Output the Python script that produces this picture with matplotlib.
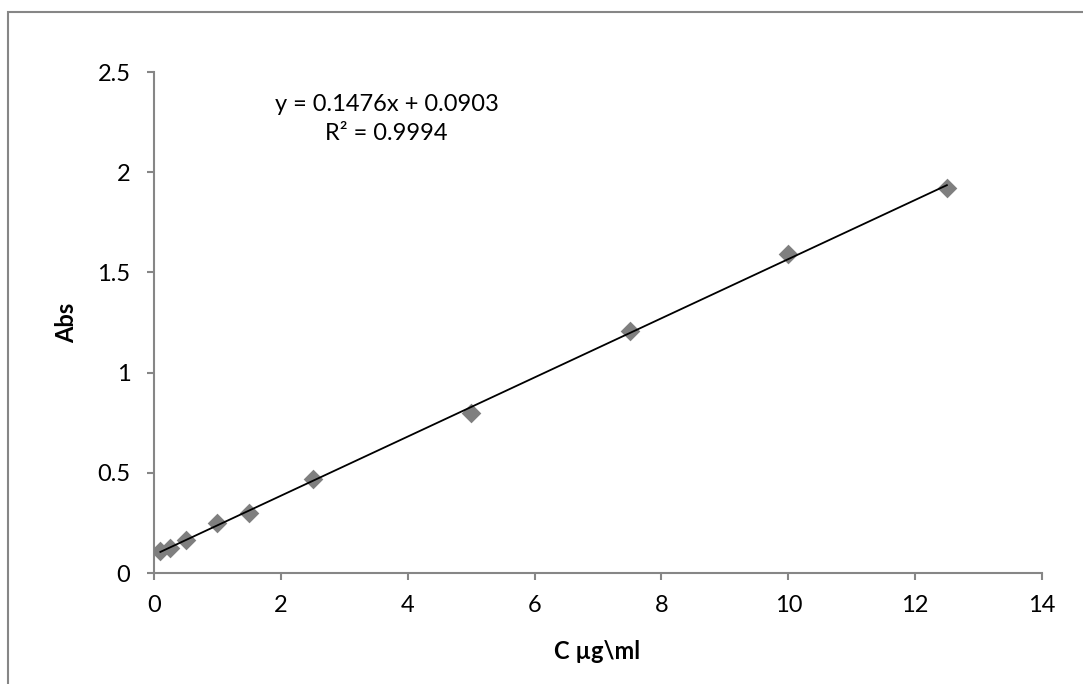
import matplotlib.pyplot as plt
from matplotlib.patches import Rectangle

plt.rcParams['font.family'] = ['Lato', 'DejaVu Sans']

conc = [0.1, 0.25, 0.5, 1, 1.5, 2.5, 5, 7.5, 10, 12.5]
absorb = [0.11, 0.125, 0.167, 0.25, 0.297, 0.47, 0.80, 1.21, 1.59, 1.92]
slope = 0.1476
intercept = 0.0903
r2 = 0.9994
xticks = [0, 2, 4, 6, 8, 10, 12, 14]
yticks = [0, 0.5, 1, 1.5, 2, 2.5]
ytick_labels = ["0", "0.5", "1", "1.5", "2", "2.5"]

W, H = 1083, 684
fig = plt.figure(figsize=(W / 100, H / 100), dpi=100)
ax = fig.add_axes([154 / W, 1 - 573 / H, (1042 - 154) / W, (573 - 72) / H])

# chart area border (cut off at right/bottom like the original)
fig.patches.append(Rectangle((8 / W, -0.1), 1.2, 1 - 12 / H + 0.1,
                             transform=fig.transFigure, fill=False,
                             edgecolor="#868686", linewidth=1.5))

grey = "#868686"
ax.scatter(conc, absorb, marker="D", s=10 ** 2, color="#7f7f7f", zorder=3,
           linewidths=0)
x_fit = [min(conc), max(conc)]
y_fit = [slope * v + intercept for v in x_fit]
ax.plot(x_fit, y_fit, color="black", linewidth=1.3, zorder=4)

ax.set_xlim(0, 14)
ax.set_ylim(0, 2.5)
ax.set_xticks(xticks)
ax.set_yticks(yticks)
ax.set_yticklabels(ytick_labels)

for side in ["top", "right"]:
    ax.spines[side].set_visible(False)
for side in ["left", "bottom"]:
    ax.spines[side].set_color(grey)
    ax.spines[side].set_linewidth(1.5)

ax.tick_params(axis="both", direction="out", length=5, width=1.5, color=grey,
               labelsize=17, labelcolor="black")
ax.tick_params(axis="y", pad=12)
ax.tick_params(axis="x", pad=11)

ax.set_xlabel("C µg\\ml", fontsize=17, fontweight="bold")
ax.set_ylabel("Abs", fontsize=17, fontweight="bold")
ax.xaxis.set_label_coords(0.499, -0.134)
ax.yaxis.set_label_coords(-0.0856, 0.499)

ax.text(0.262, 0.906, f"y = {slope}x + {intercept}\nR² = {r2}",
        transform=ax.transAxes, ha="center", va="center",
        multialignment="center", fontsize=17, linespacing=1.45)

fig.savefig("out.png", dpi=100)
